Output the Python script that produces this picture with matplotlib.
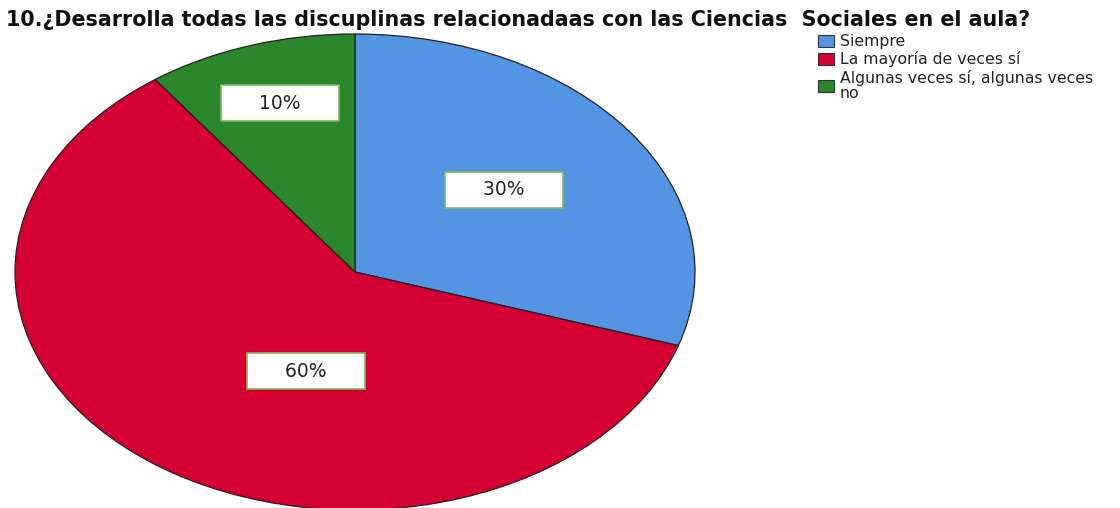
import matplotlib.pyplot as plt
from matplotlib.patches import Patch

plt.rcParams['font.family'] = ['DejaVu Sans']

titulo = "10.¿Desarrolla todas las discuplinas relacionadaas con las Ciencias  Sociales en el aula?"
categorias = ["Siempre", "La mayoría de veces sí", "Algunas veces sí, algunas veces\nno"]
porcentajes = [30, 60, 10]
colores = ["#5394E3", "#D50032", "#2A872B"]

# where SPSS put the percent boxes (axes data units)
pos_etiquetas = [(0.438, 0.345), (-0.144, -0.416), (-0.221, 0.71)]

fig = plt.figure(figsize=(11.2, 5.08), dpi=100)
ax = fig.add_axes([15 / 1120, -2 / 508, 680 / 1120, 476 / 508])

wedges, texts, autotexts = ax.pie(
    porcentajes, colors=colores, startangle=90, counterclock=False,
    autopct=lambda p: "     %d%%     " % round(p), pctdistance=0.5,
    wedgeprops=dict(edgecolor="#222222", linewidth=0.9))
ax.set_aspect('auto')
ax.set_xlim(-1, 1)
ax.set_ylim(-1, 1)

for t, (x, y) in zip(autotexts, pos_etiquetas):
    t.set_position((x, y))
    t.set_fontsize(13.5)
    t.set_color("#222222")
    t.set_bbox(dict(boxstyle="square,pad=0.45", facecolor="white",
                    edgecolor="#7DBA5A", linewidth=1.2))

fig.text(6 / 1120, 1 - 20 / 508, titulo, fontsize=14.9, fontweight='bold',
         va='center', ha='left', color="#111111")

handles = [Patch(facecolor=c, edgecolor="#333333", linewidth=0.8) for c in colores]
fig.legend(handles, categorias, loc='upper left',
           bbox_to_anchor=(818 / 1120, 1 - 34 / 508), frameon=False,
           fontsize=11.3, handlelength=1.0, handleheight=0.8,
           handletextpad=0.4, labelspacing=0.15, borderaxespad=0,
           borderpad=0)
for txt in fig.legends[0].get_texts():
    txt.set_linespacing(1.0)
    txt.set_color("#222222")

fig.savefig("out.png", dpi=100)
